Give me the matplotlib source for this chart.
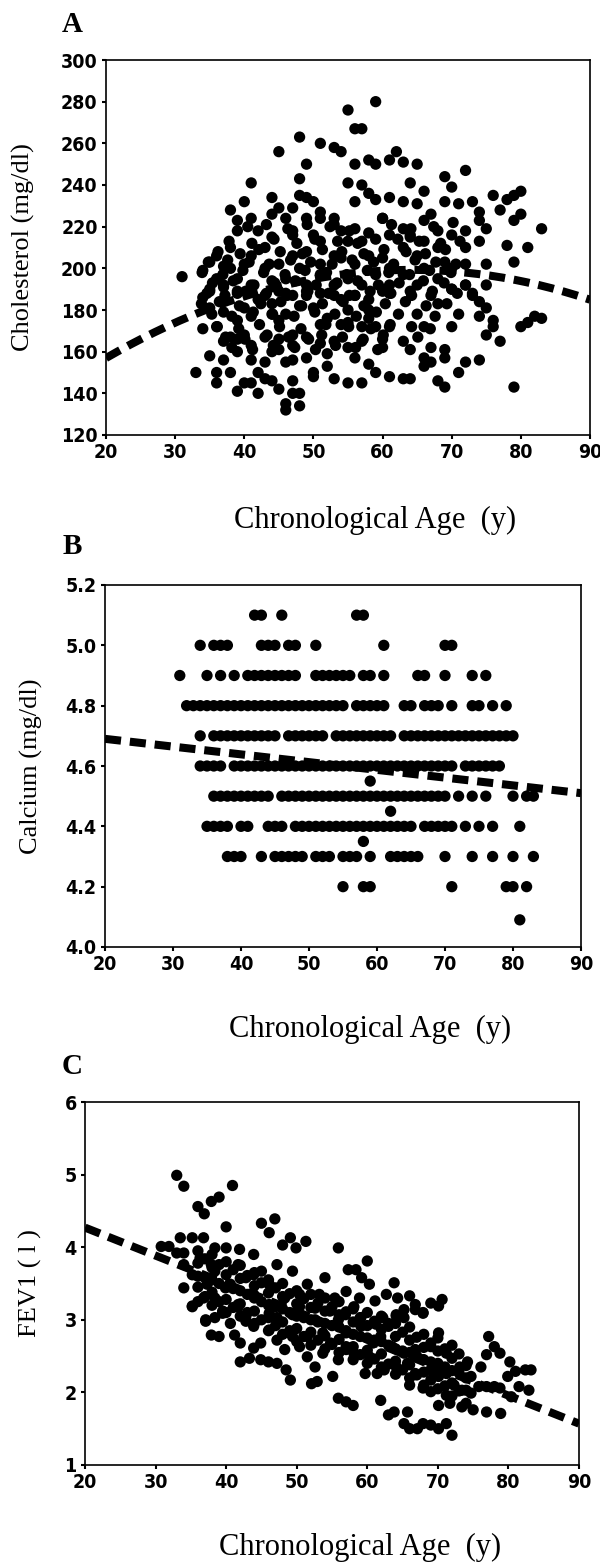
import numpy as np
import matplotlib
matplotlib.use('Agg')
import matplotlib.pyplot as plt

# ---- panel A : cholesterol vs age ----
chol_age = [31, 34, 35, 36, 37, 38, 40, 39, 39, 38, 41, 41, 42, 44, 45, 45, 46, 47, 48, 48,
            49, 48, 49, 50, 49, 51, 51, 53, 54, 53, 55, 56, 57, 59, 56, 58, 59, 55, 57, 58,
            59, 56, 61, 62, 63, 65, 61, 63, 64, 65, 66, 69, 70, 69, 71, 72, 73, 74, 74, 75,
            76, 77, 78, 79, 80, 80, 79, 78, 79, 81, 83, 75, 74, 72, 67, 66, 60, 56, 54, 50, 47,
            33, 35, 36, 36, 38, 37, 39, 40, 41, 42, 43, 42, 44, 45, 46, 46, 47, 48, 48, 47,
            47, 50, 50, 53, 55, 57, 59, 61, 63, 64, 68, 69, 71, 72, 74, 79, 77, 76, 76, 75,
            80, 81, 82, 83, 74, 74, 73, 75, 75, 71, 70, 69, 69, 67, 67, 66, 66, 64, 63, 61,
            60, 60, 65, 66, 67, 68, 70, 72, 64, 61, 57, 58, 56, 55, 53, 52, 52, 51, 49, 49,
            47, 47, 45, 45, 46, 44, 43, 41, 40, 39, 38, 37, 36, 34, 41, 43, 39, 54, 55, 57,
            58, 59, 51, 52, 45, 46, 44, 41, 39, 37, 35, 34, 35, 37, 39, 42, 45, 47, 49, 51,
            54, 56, 58, 60, 58, 55, 50, 48, 40, 44,
            44, 43, 41, 40, 45, 47, 49, 51, 53, 54, 55, 57, 59, 58, 60, 63, 64, 65, 66, 66,
            68, 69, 70, 72, 72, 72, 70, 68, 65, 63, 61, 59, 57, 55, 53, 51, 49, 46, 44, 41,
            39, 37, 35, 36, 39, 43, 46, 49, 53, 56, 48, 51, 38, 43, 56, 61, 70, 73,
            44, 47, 51, 53, 61, 63, 64, 60, 58, 68]
chol_val = [196, 199, 203, 206, 201, 228, 232, 223, 218, 210, 241, 224, 218, 234, 229, 256, 224, 218, 243, 263,
            250, 235, 234, 232, 224, 260, 227, 258, 256, 224, 276, 267, 267, 280, 250, 252, 250, 241, 240, 236,
            233, 232, 252, 256, 251, 250, 234, 232, 241, 231, 237, 244, 239, 232, 231, 247, 232, 227, 223, 219,
            235, 228, 233, 235, 237, 226, 223, 211, 203, 210, 219, 202, 213, 218, 226, 223, 224, 219, 218, 216, 216,
            150, 158, 145, 150, 150, 156, 141, 145, 145, 140, 147, 150, 146, 142, 135, 132, 140, 140, 134, 156,
            146, 148, 150, 147, 145, 145, 150, 148, 147, 147, 146, 143, 150, 155, 156, 143, 165, 175, 172, 168,
            172, 174, 177, 176, 177, 184, 188, 181, 192, 178, 172, 161, 157, 162, 155, 153, 157, 161, 165, 172,
            162, 166, 178, 172, 187, 183, 190, 192, 189, 188, 165, 154, 157, 162, 165, 159, 153, 164, 167, 157,
            168, 163, 166, 161, 155, 160, 167, 163, 168, 166, 167, 165, 172, 171, 156, 155, 160, 173, 174, 172,
            176, 172, 173, 176, 175, 178, 178, 177, 175, 179, 181, 186, 190, 191, 188, 185, 189, 187, 189, 188,
            185, 187, 185, 189, 180, 180, 181, 182, 181, 183,
            215, 210, 206, 202, 202, 206, 208, 213, 206, 205, 213, 213, 214, 206, 205, 210, 216, 206, 200, 213,
            210, 203, 216, 210, 202, 192, 190, 195, 192, 197, 192, 197, 192, 195, 192, 197, 192, 195, 194, 192,
            195, 192, 189, 195, 189, 187, 188, 187, 187, 187, 200, 202, 200, 200, 202, 200, 200, 187,
            226, 229, 224, 221, 216, 219, 215, 224, 217, 218]
# the dense core of the cloud, read row by row
chol_core_age = [40.5, 43.2, 46.3, 49.1, 52.4, 55.2, 61.3, 64.1, 67.4, 70.2,
                 37.8, 41.1, 44.3, 47.6, 50.2, 53.5, 56.4, 62.2, 65.3, 68.4, 71.2,
                 36.2, 39.4, 42.1, 45.2, 48.4, 51.3, 54.1, 57.3, 60.2, 63.4, 66.2, 69.1,
                 34.8, 37.6, 40.7, 43.6, 46.7, 49.6, 52.7, 55.6, 58.7, 61.6, 64.7, 67.7, 70.6,
                 33.9, 36.9, 39.8, 42.8, 45.9, 48.8, 51.9, 54.8, 57.8, 60.9, 63.9, 66.8, 69.9,
                 35.4, 38.4, 41.4, 44.4, 47.4, 50.4, 53.4, 56.4, 59.4, 62.4, 65.9, 68.9,
                 34.6, 37.2, 40.2, 43.2, 46.2, 49.2, 52.2, 55.2, 58.2, 61.2, 64.2, 67.2, 70.8,
                 33.8, 36.4, 39.3, 42.4, 45.3, 48.3, 51.3, 54.3, 57.3, 60.4, 63.3, 66.3, 69.3,
                 35.3, 38.2, 41.3, 44.1, 47.2, 50.2, 53.1, 56.2, 59.1, 62.3, 67.6,
                 36.1, 39.2, 42.2, 45.1, 48.2, 51.8, 55.1, 58.3, 61.1, 64.2, 66.9,
                 37.3, 40.1, 43.3, 46.4, 49.3, 51.2, 54.2, 57.2, 60.1, 65.1,
                 38.2, 41.2, 44.2, 47.3, 50.3, 53.2, 56.1, 59.3]
chol_core_val = [220, 221, 219, 221, 220, 218, 221, 219, 220, 222,
                 213, 212, 214, 212, 214, 213, 212, 214, 213, 212, 213,
                 208, 207, 209, 208, 207, 209, 208, 207, 209, 208, 207, 209,
                 203, 204, 203, 202, 204, 203, 202, 204, 203, 202, 204, 203, 202,
                 198, 197, 199, 198, 197, 199, 198, 197, 199, 198, 197, 199, 198,
                 193, 194, 192, 193, 194, 192, 193, 194, 192, 193, 194, 193,
                 188, 187, 189, 188, 187, 189, 188, 187, 189, 188, 187, 189, 188,
                 183, 184, 182, 183, 184, 182, 183, 184, 182, 183, 184, 182, 183,
                 178, 177, 179, 178, 177, 179, 178, 177, 179, 178, 177,
                 172, 171, 173, 172, 171, 173, 172, 171, 173, 172, 171,
                 167, 166, 168, 167, 166, 168, 167, 166, 168, 167,
                 162, 161, 163, 162, 161, 163, 162, 161]
chol_fit = [-0.0216, 0.4 + 2 * 0.0216 * 55, 197.4 - 0.4 * 55 - 0.0216 * 55 ** 2]  # quadratic trend

# ---- panel B : calcium, values are recorded in 0.1 steps ----
ca_levels = [5.1, 5.0, 4.9, 4.8, 4.7, 4.6, 4.55, 4.5, 4.45, 4.4, 4.35, 4.3, 4.2, 4.09]
ca_ages = [
    [42, 43, 46, 57, 58],
    [34, 36, 37, 38, 43, 44, 45, 47, 48, 51, 61, 70, 71],
    [31, 35, 37, 39, 41, 42, 43, 44, 45, 46, 47, 48, 51, 52, 53, 54, 55, 56, 58, 59, 61, 66, 67, 70, 74, 76],
    [32, 33, 34, 35, 36, 37, 38, 39, 40, 41, 42, 43, 44, 45, 46, 47, 48, 49, 50, 51, 52, 53, 54, 55,
     57, 58, 59, 60, 61, 64, 65, 67, 68, 69, 71, 74, 75, 77, 79],
    [34, 36, 37, 38, 39, 40, 41, 42, 43, 44, 45, 47, 48, 49, 50, 51, 52, 54, 55, 56, 57, 58, 59, 60, 61, 62,
     64, 65, 66, 67, 68, 69, 70, 71, 72, 73, 74, 75, 76, 77, 78, 79, 80],
    [34, 35, 36, 37, 39, 40, 41, 42, 43, 44, 45, 46, 47, 48, 49, 50, 51, 52, 53, 54, 55, 56, 57, 58, 59, 60,
     61, 62, 63, 64, 65, 66, 67, 68, 69, 70, 71, 73, 74, 75, 76, 77, 78],
    [59],
    [36, 37, 38, 39, 40, 41, 42, 43, 44, 46, 47, 48, 49, 50, 51, 52, 53, 54, 55, 56, 57, 58, 59, 60, 61, 62,
     63, 64, 65, 66, 67, 68, 69, 70, 72, 74, 76, 80, 82, 83],
    [62],
    [35, 36, 37, 38, 40, 41, 44, 45, 46, 48, 49, 50, 51, 52, 53, 54, 55, 56, 57, 58, 59, 60, 61, 62, 63, 64,
     65, 67, 68, 69, 70, 71, 73, 75, 77, 81],
    [58],
    [38, 39, 40, 43, 45, 46, 47, 48, 49, 51, 52, 53, 55, 56, 57, 59, 62, 63, 64, 65, 66, 70, 74, 77, 80, 83],
    [55, 58, 59, 71, 79, 80, 82],
    [81],
]
ca_fit = [4.69, 4.51]  # trend value at age 20 and age 90

# ---- panel C : FEV1 vs age ----
fev_age = [33, 34, 36, 36.9, 37.9, 39, 40.9, 40, 45, 46.1, 46.9, 48, 49.1, 49.9, 51.3, 55.9, 60, 57.3, 58.4, 59.2,
           60.3, 61.1, 54, 63.8, 62.7, 64.3, 66, 66.8, 67.9, 69, 70.1, 64.1, 65.2, 62.2, 58.9, 57, 55.4, 53.2,
           30.8, 31.9, 33.5, 35.2, 36.8, 34, 33, 34, 35.2, 34, 35.2, 37.1, 36.3, 38.4, 40, 41.9, 43.9, 41.7, 38.4,
           37.3, 36.8, 38.4, 40.6, 42.8, 45, 47.2, 49.4, 51.5, 46.1, 43.9, 41.7, 39.5, 38.4, 46.1, 48.3, 50.4,
           49.4, 47.2, 42.8, 52.6, 54.7, 56.9, 59.1, 61.2, 39.9, 43.9, 37.9,
           35.2, 37.1, 37.9, 39, 41.2, 42, 43.9, 42, 43.3, 44.9, 46, 47.2, 48.5, 49.1, 52.1, 52.9, 55.1, 55.9, 57,
           58, 61.9, 63, 63.8, 65.7, 65.2, 66, 67.1, 67.9, 69, 70.1, 71.2, 72, 70.1, 66, 67.9, 69, 71.2, 71.7,
           73.4, 75, 76.9, 78.9, 72.3, 73.4, 74.7, 75.8, 76.9, 78, 77.2, 76.9, 78, 78.8, 80.2, 81, 82.4, 83.2,
           82.9, 81.5, 80.4, 78.8, 79.9, 74.7, 76.1, 74.2, 73.1, 72, 71.2, 70.1, 69, 67.9, 66.8, 65.2, 64.1, 63,
           61.9, 60.8, 60.3, 59.7, 61.4, 62.4, 64.1, 65.7, 66.8, 65.2, 63.5, 66.8, 67.9, 69, 70.1, 71.2, 58.1,
           57, 55.9, 54.8, 53.7, 52.6, 51.5, 50.4, 49.4, 48.3, 47.2, 46.1, 44.9, 43.9, 42.8, 40.6, 39.5, 41.7,
           46.1, 49.4, 52.6, 55.9, 59.1, 57, 53.7, 51.5, 54.8, 58.1, 50.4, 70.6]
fev_val = [4.99, 4.84, 4.56, 4.46, 4.63, 4.69, 4.85, 4.28, 4.33, 4.2, 4.39, 4.03, 4.13, 3.99, 4.08, 3.99, 3.81, 3.69, 3.69, 3.58,
           3.49, 3.26, 3.58, 3.51, 3.35, 3.3, 3.33, 3.21, 3.1, 3.23, 3.19, 3.07, 3.03, 3.03, 3.3, 3.39, 3.3, 3.35,
           4.01, 4.01, 4.13, 4.13, 4.13, 3.92, 3.92, 3.76, 3.62, 3.44, 3.19, 2.98, 3.85, 3.99, 3.99, 3.97, 3.9, 3.76, 3.67,
           3.49, 3.3, 3.3, 3.49, 3.58, 3.67, 3.76, 3.67, 3.49, 3.49, 3.35, 3.21, 3.12, 3.03, 3.21, 3.3, 3.35,
           3.07, 3.03, 2.98, 3.16, 3.12, 3.07, 3.03, 2.94, 3.44, 3.62, 3.76,
           3.18, 3.0, 2.79, 2.77, 2.79, 2.68, 2.61, 2.42, 2.47, 2.45, 2.42, 2.4, 2.31, 2.17, 2.12, 2.15, 2.22, 1.92, 1.87,
           1.82, 1.89, 1.69, 1.73, 1.73, 1.57, 1.5, 1.5, 1.57, 1.55, 1.5, 1.57, 1.41, 1.82, 2.1, 2.06, 2.01, 1.96, 1.85,
           1.8, 1.76, 1.73, 1.71, 2.1, 2.03, 1.99, 2.08, 2.08, 2.08, 2.77, 2.52, 2.63, 2.54, 2.42, 2.29, 2.31, 2.31,
           2.03, 2.08, 1.94, 2.06, 2.22, 2.22, 2.35, 2.42, 2.35, 2.65, 2.54, 2.82, 2.63, 3.09, 3.14, 3.14, 3.05, 2.95,
           2.77, 2.68, 2.49, 2.26, 2.26, 2.31, 2.35, 2.4, 2.26, 2.54, 2.63, 2.59, 2.45, 2.31, 2.22, 2.26, 2.54,
           2.63, 2.45, 2.68, 2.54, 2.35, 2.49, 2.63, 2.77, 2.59, 2.72, 2.86, 2.68, 2.91, 3.05, 2.95, 3.09, 3.18,
           3.09, 3.09, 3.0, 3.0, 2.91, 2.82, 2.82, 2.77, 3.14, 3.18, 3.18, 3.28]
# dense band of the FEV1 cloud, read column by column
fev_core_age = [36, 38, 40, 42, 44, 46, 48, 50, 52, 54, 56, 58, 60, 62, 64, 66, 68, 70, 72, 74,
                37, 39, 41, 43, 45, 47, 49, 51, 53, 55, 57, 59, 61, 63, 65, 67, 69, 71, 73]
fev_core_vals = [
    [3.25, 3.45, 3.6, 3.78, 3.95], [3.2, 3.38, 3.55, 3.72, 3.9], [3.1, 3.28, 3.45, 3.62, 3.8],
    [3.05, 3.22, 3.4, 3.57, 3.75], [2.95, 3.12, 3.3, 3.47, 3.65], [2.85, 3.03, 3.2, 3.37, 3.55],
    [2.8, 2.97, 3.15, 3.32, 3.5], [2.7, 2.88, 3.05, 3.22, 3.4], [2.65, 2.83, 3.0, 3.17, 3.35],
    [2.6, 2.78, 2.95, 3.12, 3.3], [2.55, 2.73, 2.9, 3.07, 3.25], [2.45, 2.63, 2.8, 2.97, 3.15],
    [2.4, 2.58, 2.75, 2.92, 3.1], [2.35, 2.53, 2.7, 2.87, 3.05], [2.25, 2.43, 2.6, 2.77, 2.95],
    [2.2, 2.38, 2.55, 2.72, 2.9], [2.1, 2.28, 2.45, 2.62, 2.8], [2.05, 2.23, 2.4, 2.57, 2.75],
    [1.95, 2.13, 2.3, 2.47], [1.85, 2.03, 2.2, 2.37],
    [3.32, 3.58, 3.84], [3.25, 3.5, 3.76], [3.17, 3.43, 3.69], [3.1, 3.35, 3.61], [3.0, 3.25, 3.51],
    [2.92, 3.18, 3.44], [2.85, 3.1, 3.36], [2.77, 3.03, 3.29], [2.72, 2.97, 3.23], [2.66, 2.92, 3.18],
    [2.59, 2.85, 3.11], [2.52, 2.77, 3.03], [2.46, 2.72, 2.98], [2.39, 2.65, 2.91], [2.31, 2.57, 2.83],
    [2.24, 2.5, 2.76], [2.17, 2.42, 2.68], [2.09, 2.35, 2.6], [2.02, 2.27, 2.53],
]
fev_fit = [4.27, 1.57]  # trend value at age 20 and age 90

age_ticks = [20, 30, 40, 50, 60, 70, 80, 90]

tick_font = dict(family='DejaVu Sans', size=14, weight='bold', stretch='condensed')
serif = 'Liberation Serif'

fig = plt.figure(figsize=(6, 15.66), dpi=100)
W, H = 600.0, 1566.0


def make_axes(left, top, right, bottom):
    return fig.add_axes([left / W, 1 - bottom / H, (right - left) / W, (bottom - top) / H])


def style(ax, ylabel, ylab_x, yticks, ylim, fmt):
    ax.set_xlim(20, 90)
    ax.set_ylim(*ylim)
    ax.set_xticks(age_ticks)
    ax.set_yticks(yticks)
    ax.set_xticklabels([str(t) for t in age_ticks], fontdict=tick_font)
    ax.set_yticklabels([fmt.format(t) for t in yticks], fontdict=tick_font)
    ax.tick_params(length=3, width=1.5, direction='out', pad=3)
    for s in ax.spines.values():
        s.set_linewidth(1.2)
    ax.set_ylabel(ylabel, family=serif, fontsize=19)
    ax.yaxis.label.set_va('center')
    ax.yaxis.set_label_coords(ylab_x, 0.5)
    ax.set_xlabel('Chronological Age  (y)', family=serif, fontsize=22)
    ax.xaxis.label.set_va('center')
    ax.xaxis.set_label_coords(0.556, -0.228)


dot = dict(s=66, c='black', edgecolors='none', zorder=3)
dash = dict(color='black', lw=5.8, dashes=(2.0, 1.1), solid_capstyle='butt',
            dash_capstyle='butt', zorder=2)
xs = np.linspace(20, 90, 200)

# A
axA = make_axes(106, 60, 590, 435)
axA.scatter(chol_age + chol_core_age, chol_val + chol_core_val, **dot)
axA.plot(xs, np.polyval(chol_fit, xs), **dash)
style(axA, 'Cholesterol (mg/dl)', -0.171, [120, 140, 160, 180, 200, 220, 240, 260, 280, 300],
      (120, 300), '{:d}')

# B
axB = make_axes(105, 585, 581, 947)
ca_x = [a for lev, ages in zip(ca_levels, ca_ages) for a in ages]
ca_y = [lev for lev, ages in zip(ca_levels, ca_ages) for a in ages]
axB.scatter(ca_x, ca_y, **dot)
axB.plot([20, 90], ca_fit, **dash)
style(axB, 'Calcium (mg/dl)', -0.155, [4.0, 4.2, 4.4, 4.6, 4.8, 5.0, 5.2], (4.0, 5.2), '{:.1f}')

# C
axC = make_axes(85, 1102, 579, 1465)
core_x = [a for a, vals in zip(fev_core_age, fev_core_vals) for v in vals]
core_y = [v for a, vals in zip(fev_core_age, fev_core_vals) for v in vals]
axC.scatter(fev_age + core_x, fev_val + core_y, **dot)
axC.plot([20, 90], fev_fit, **dash)
style(axC, 'FEV1 ( l )', -0.11, [1, 2, 3, 4, 5, 6], (1, 6), '{:d}')

for letter, (px, py) in zip('ABC', [(62, 24), (63, 547), (62, 1067)]):
    fig.text(px / W, 1 - py / H, letter, family=serif, fontweight='bold', fontsize=21,
             ha='left', va='center')

fig.savefig('out.png', dpi=100)
